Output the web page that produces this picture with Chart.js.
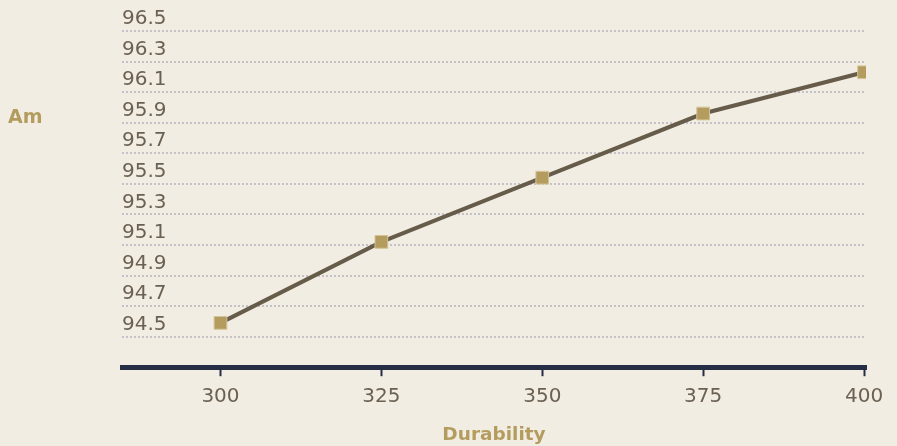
<!DOCTYPE html>
<html>
<head>
<meta charset="utf-8">
<script src="https://cdn.jsdelivr.net/npm/chart.js@4.4.1/dist/chart.umd.min.js"></script>
<style>
html,body{margin:0;padding:0;background:#f1ede3;}
#wrap{position:relative;width:897px;height:446px;}
</style>
</head>
<body>
<div id="wrap"><canvas id="chart" width="897" height="446"></canvas></div>
<script>
// data
const durability=[300,325,350,375,400];
const amValues=[94.59,95.12,95.54,95.96,96.23];
const yTicks=[94.5,94.7,94.9,95.1,95.3,95.5,95.7,95.9,96.1,96.3,96.5];
const xTicks=[300,325,350,375,400];
const xTitle="Durability";
const yTitle="Am";

const gold="#b39c5e";
const navy="#262e45";
const tickColor="#6b6153";
const tickFont={family:"'DejaVu Sans', sans-serif",size:20};
const titleFont={family:"'DejaVu Sans', sans-serif",size:18.5,weight:"bold"};

// y title sits horizontally on the left, not rotated
const sideTitle={
id:"sideTitle",
afterDraw(chart){
const ctx=chart.ctx;
ctx.save();
ctx.font="bold 19px 'DejaVu Sans', sans-serif";
ctx.fillStyle=gold;
ctx.textAlign="left";
ctx.textBaseline="middle";
ctx.fillText(yTitle,8,118);
ctx.restore();
}
};

new Chart(document.getElementById("chart"),{
type:"line",
data:{
datasets:[{
label:yTitle,
data:durability.map((d,i)=>({x:d,y:amValues[i]})),
borderColor:"#675c4a",
borderWidth:4,
tension:0,
pointStyle:"rect",
pointRadius:9,
pointHoverRadius:9,
pointBackgroundColor:gold,
pointBorderColor:"#d4c49a",
pointBorderWidth:1
}]
},
options:{
responsive:false,
animation:false,
layout:{padding:{left:122,right:31,top:31,bottom:0}},
plugins:{legend:{display:false},tooltip:{enabled:false}},
scales:{
x:{
type:"linear",
min:284.7,
max:400.3,
afterBuildTicks:s=>{s.ticks=xTicks.map(v=>({value:v}));},
border:{display:true,color:navy,width:5},
grid:{drawOnChartArea:false,drawTicks:true,tickLength:9,color:navy,tickColor:navy,tickWidth:2},
ticks:{color:tickColor,padding:9,autoSkip:false,maxRotation:0,font:tickFont},
title:{display:true,text:xTitle,color:gold,padding:{top:5.6,bottom:0},font:titleFont}
},
y:{
min:94.3,
max:96.5,
afterBuildTicks:s=>{s.ticks=yTicks.map(v=>({value:v}));},
afterFit:s=>{s.width=0;},
border:{display:false,dash:[2,2]},
grid:{drawTicks:false,color:"#c6c0c9",lineWidth:2},
ticks:{mirror:true,padding:0,labelOffset:-12,autoSkip:false,color:tickColor,font:tickFont,
callback:v=>v.toFixed(1)}
}
}
},
plugins:[sideTitle]
});
</script>
</body>
</html>
